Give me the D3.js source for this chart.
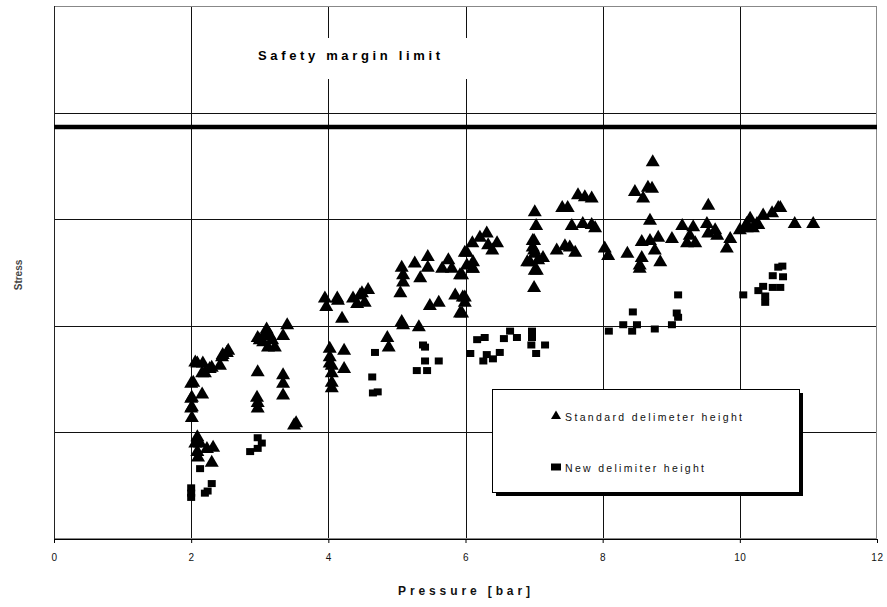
<!DOCTYPE html>
<html>
<head>
<meta charset="utf-8">
<script src="https://cdn.jsdelivr.net/npm/d3@7"></script>
<style>
  html, body { margin: 0; padding: 0; background: #fff; }
  svg { display: block; font-family: "Liberation Sans", Arial, sans-serif; }
</style>
</head>
<body>
<svg id="chart" width="887" height="607"></svg>
<script>
// ---------------- DATA ----------------
const xTicks = [0, 2, 4, 6, 8, 10, 12];
const yGridValues = [1, 2, 3, 4, 5];
const safetyLimit = 3.865;
const xTitle = "Pressure [bar]";
const yTitle = "Stress";
const limitLabel = "Safety margin limit";
const seriesNames = ["Standard delimeter height", "New delimiter height"];

// Standard delimeter height (triangles): [pressure, stress]
const standardPts = [
  [2.09,1.65],[2.17,1.65],[2.30,1.61],[2.45,1.71],[2.52,1.75],[2.16,1.56],[2.20,1.56],[2.42,1.63],
  [2.06,1.66],[2.27,1.60],[2.46,1.73],[2.54,1.77],[2.03,1.47],[2.01,1.33],[2.01,1.24],[2.01,1.14],
  [2.16,1.36],[2.00,1.46],[2.00,1.32],[2.00,1.23],
  [2.09,0.96],[2.06,0.90],[2.09,0.82],[2.23,0.85],[2.32,0.86],[2.30,0.72],[2.10,0.77],[2.13,0.90],
  [2.97,1.89],[3.08,1.93],[3.05,1.85],[3.15,1.91],[3.12,1.80],[3.22,1.80],[3.34,1.91],[3.40,2.01],
  [3.00,1.87],[3.10,1.97],[3.18,1.87],
  [2.97,1.57],[3.34,1.54],[3.34,1.46],[3.34,1.35],[2.96,1.33],[2.97,1.28],[2.97,1.23],[3.53,1.09],[3.50,1.07],
  [3.95,2.26],[3.97,2.18],[4.13,2.26],[4.20,2.07],[4.36,2.26],[4.46,2.29],[4.58,2.34],[4.53,2.22],
  [4.42,2.21],[4.14,2.24],[4.49,2.31],
  [4.02,1.79],[4.02,1.71],[4.05,1.63],[4.05,1.56],[4.05,1.47],[4.05,1.42],[4.23,1.77],[4.23,1.60],[4.02,1.65],
  [5.07,2.55],[5.09,2.48],[5.09,2.41],[5.05,2.31],[5.26,2.59],[5.34,2.45],[5.45,2.65],[5.45,2.55],
  [5.66,2.54],[5.75,2.62],[5.80,2.54],[5.92,2.48],[5.48,2.19],[5.61,2.22],[5.85,2.29],[5.96,2.27],
  [5.99,2.22],[5.92,2.12],
  [5.07,2.04],[5.09,2.01],[5.32,1.99],[4.86,1.89],[4.88,1.80],
  [6.02,2.69],[6.10,2.78],[6.21,2.83],[6.31,2.87],[6.33,2.76],[6.46,2.78],[6.39,2.71],[6.11,2.60],
  [6.11,2.54],[5.99,2.69],[6.02,2.57],[6.10,2.54],[5.95,2.48],[5.99,2.27],[5.95,2.12],
  [7.01,3.07],[7.03,2.94],[7.00,2.80],[7.00,2.71],[6.90,2.60],[7.06,2.62],[7.13,2.64],[7.01,2.52],
  [7.00,2.36],[6.98,2.80],[6.98,2.74],[7.01,2.68],[6.94,2.60],[7.04,2.52],
  [7.41,3.11],[7.49,3.11],[7.64,3.23],[7.74,3.21],[7.84,3.20],[7.55,2.94],[7.71,2.96],[7.84,2.95],
  [7.89,2.92],[7.33,2.71],[7.45,2.75],[7.52,2.74],[7.60,2.69],
  [8.03,2.73],[8.08,2.66],[8.36,2.68],[8.57,2.64],[8.54,2.57],[8.54,2.54],[8.84,2.60],[8.57,2.79],
  [8.69,2.80],[8.81,2.83],[8.76,2.71],[8.73,3.54],[8.66,3.30],[8.72,3.29],[8.47,3.26],[8.59,3.20],[8.69,2.99],
  [9.01,2.82],[9.16,2.94],[9.32,2.93],[9.27,2.85],[9.23,2.78],[9.35,2.78],[9.54,3.13],[9.52,2.96],
  [9.54,2.87],[9.64,2.90],[9.67,2.85],[9.81,2.73],[9.86,2.82],[10.00,2.90],[10.10,2.96],[10.15,3.01],
  [10.25,2.96],[10.34,3.04],[10.47,3.06],[10.56,3.11],[10.80,2.96],[11.07,2.96],[10.10,2.92],[10.19,2.92],
  [10.27,2.95],[10.59,3.11]
];

// New delimiter height (squares): [pressure, stress]
const newPts = [
  [2.00,0.48],[2.00,0.43],[2.00,0.39],[2.20,0.43],[2.24,0.45],[2.30,0.52],[2.13,0.66],
  [2.97,0.95],[3.03,0.90],[2.97,0.85],[2.86,0.82],
  [4.68,1.75],[4.64,1.52],[4.65,1.37],[4.72,1.38],
  [5.38,1.82],[5.41,1.80],[5.41,1.67],[5.61,1.67],[5.29,1.58],[5.44,1.58],
  [6.07,1.74],[6.17,1.87],[6.28,1.89],[6.31,1.73],[6.26,1.67],[6.40,1.69],[6.50,1.75],[6.56,1.88],
  [6.65,1.95],[6.75,1.89],[6.97,1.95],[6.97,1.89],[6.96,1.82],[7.16,1.82],[7.03,1.74],
  [8.09,1.95],[8.30,2.01],[8.43,1.95],[8.50,2.01],[8.44,2.13],[8.76,1.97],[9.01,2.01],[9.08,2.12],
  [9.10,2.08],[9.10,2.29],
  [10.05,2.29],[10.27,2.33],[10.37,2.28],[10.37,2.22],[10.34,2.37],[10.48,2.36],[10.59,2.36],
  [10.48,2.47],[10.63,2.46],[10.62,2.56],[10.56,2.55]
];

// ---------------- CHART ----------------
const svg = d3.select("#chart");
const L = 54, R = 877, T = 6, B = 539;
const x = d3.scaleLinear().domain([0, 12]).range([L, R]);
const y = d3.scaleLinear().domain([0, 5]).range([B, T]);

const triPath = "M0,-7.5L7,4.5L-7,4.5Z";
const sqPath = "M-4,-3.5H4V3.5H-4Z";

// gridlines
const grid = svg.append("g").attr("shape-rendering", "crispEdges");
grid.selectAll("line.h").data(yGridValues.filter(v => v < 5)).join("line")
  .attr("x1", L).attr("x2", R)
  .attr("y1", d => Math.round(y(d)) + 0.5).attr("y2", d => Math.round(y(d)) + 0.5)
  .attr("stroke", "#111").attr("stroke-width", 1);
grid.selectAll("line.v").data(xTicks.filter(v => v > 0 && v < 12)).join("line")
  .attr("y1", T).attr("y2", B)
  .attr("x1", d => Math.round(x(d)) + 0.5).attr("x2", d => Math.round(x(d)) + 0.5)
  .attr("stroke", "#111").attr("stroke-width", 1);

// frame (top, left, right gray)
svg.append("rect").attr("x", L + 0.5).attr("y", T + 0.5)
  .attr("width", R - L - 1).attr("height", B - T - 1)
  .attr("fill", "none").attr("stroke", "#888").attr("stroke-width", 1)
  .attr("shape-rendering", "crispEdges");
svg.append("line").attr("x1", L + 0.5).attr("x2", L + 0.5).attr("y1", T).attr("y2", B)
  .attr("stroke", "#222").attr("shape-rendering", "crispEdges");

// x axis
const xAxis = d3.axisBottom(x).tickValues(xTicks).tickSize(4).tickPadding(11)
  .tickFormat(d3.format("d"));
const gx = svg.append("g").attr("transform", `translate(0,${B})`).call(xAxis);
gx.select(".domain").attr("stroke", "#000").attr("shape-rendering", "crispEdges");
gx.selectAll(".tick line").attr("stroke", "#000");
gx.selectAll(".tick text").attr("font-size", 10).attr("fill", "#111")
  .attr("font-family", "'Liberation Sans', Arial, sans-serif").attr("letter-spacing", 0.6);

// safety label with white box
svg.append("rect").attr("x", 225).attr("y", 38).attr("width", 250).attr("height", 41).attr("fill", "#fff");
svg.append("text").attr("x", 258).attr("y", 60)
  .attr("font-size", 13).attr("font-weight", "bold").attr("fill", "#000")
  .attr("textLength", 182).attr("lengthAdjust", "spacing")
  .text(limitLabel);

// safety limit thick line
svg.append("line").attr("x1", L).attr("x2", R)
  .attr("y1", y(safetyLimit)).attr("y2", y(safetyLimit))
  .attr("stroke", "#000").attr("stroke-width", 4.5);

// points
svg.append("g").selectAll("path").data(standardPts).join("path")
  .attr("d", triPath)
  .attr("transform", d => `translate(${x(d[0])},${y(d[1])})`)
  .attr("fill", "#000");
svg.append("g").selectAll("path").data(newPts).join("path")
  .attr("d", sqPath)
  .attr("transform", d => `translate(${x(d[0])},${y(d[1])})`)
  .attr("fill", "#000");

// axis titles
svg.append("text").attr("x", 398).attr("y", 595)
  .attr("font-size", 12).attr("font-weight", "bold").attr("fill", "#111")
  .attr("textLength", 132).attr("lengthAdjust", "spacing")
  .text(xTitle);
svg.append("text").attr("transform", "translate(22,275) rotate(-90)")
  .attr("text-anchor", "middle")
  .attr("font-size", 10).attr("font-weight", "bold").attr("fill", "#444")
  .text(yTitle);

// legend
const lg = svg.append("g");
lg.append("rect").attr("x", 496).attr("y", 393).attr("width", 307).attr("height", 103).attr("fill", "#000");
lg.append("rect").attr("x", 492.5).attr("y", 389.5).attr("width", 307).attr("height", 103)
  .attr("fill", "#fff").attr("stroke", "#000").attr("stroke-width", 1)
  .attr("shape-rendering", "crispEdges");
lg.append("path").attr("d", "M0,-5.5L5,3L-5,3Z").attr("transform", "translate(556,416)").attr("fill", "#000");
lg.append("text").attr("x", 565).attr("y", 421).attr("font-size", 10.5).attr("fill", "#111")
  .attr("textLength", 177).attr("lengthAdjust", "spacing").text(seriesNames[0]);
lg.append("path").attr("d", "M-5,-3.5H5V3.5H-5Z").attr("transform", "translate(556,467)").attr("fill", "#000");
lg.append("text").attr("x", 565).attr("y", 472).attr("font-size", 10.5).attr("fill", "#111")
  .attr("textLength", 139).attr("lengthAdjust", "spacing").text(seriesNames[1]);
</script>
</body>
</html>
